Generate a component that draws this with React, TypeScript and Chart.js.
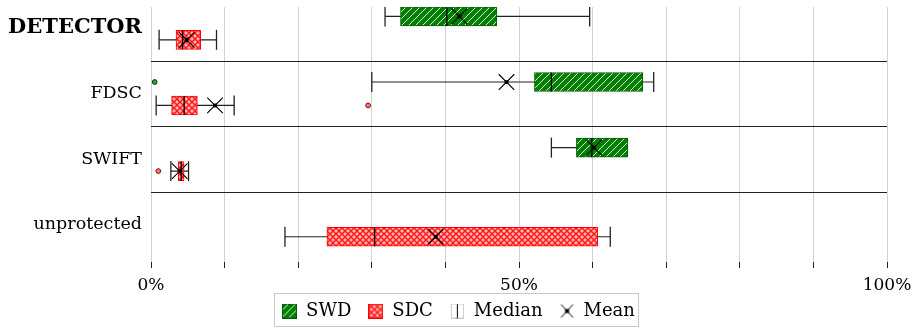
import React, { useEffect, useRef } from 'react';
import { Chart, registerables } from 'chart.js';

Chart.register(...registerables);

// ---------- data ----------
const categories = ['DETECTOR', 'FDSC', 'SWIFT', 'unprotected'];
const seriesNames = ['SWD', 'SDC', 'Median', 'Mean'];

// SWD box statistics (percent); null = no data
const swdLow = [31.8, 30.0, 54.4, null];
const swdQ1 = [33.9, 52.1, 57.8, null];
const swdMedian = [40.2, 54.4, 59.9, null];
const swdMean = [41.9, 48.3, 60.2, null];
const swdQ3 = [47.0, 66.8, 64.8, null];
const swdHigh = [59.6, 68.3, 64.8, null];
const swdOutliers = [[], [0.5], [], []];

// SDC box statistics (percent)
const sdcLow = [1.1, 0.7, 2.7, 18.2];
const sdcQ1 = [3.4, 2.8, 3.7, 23.9];
const sdcMedian = [4.3, 4.5, 4.1, 30.4];
const sdcMean = [4.85, 8.7, 3.9, 38.7];
const sdcQ3 = [6.75, 6.3, 4.5, 60.7];
const sdcHigh = [8.9, 11.3, 5.1, 62.4];
const sdcOutliers = [[], [29.5], [1.0], []];

const xLabeledTicks = [0, 50, 100];

// ---------- style ----------
const FONT = "'DejaVu Serif', serif";
const SWD_OFFSET = -0.177;
const SDC_OFFSET = 0.18;

function makeTile(kind: 'swd' | 'sdc'): HTMLCanvasElement {
  const c = document.createElement('canvas');
  if (kind === 'swd') {
    const p = 7;
    c.width = p; c.height = p;
    const g = c.getContext('2d')!;
    g.fillStyle = '#007f00';
    g.fillRect(0, 0, p, p);
    g.strokeStyle = 'rgba(255,255,255,0.85)';
    g.lineWidth = 1;
    for (let k = -1; k <= 1; k++) {
      g.beginPath();
      g.moveTo(k * p, p);
      g.lineTo(k * p + p, 0);
      g.stroke();
    }
  } else {
    const p = 6;
    c.width = p; c.height = p;
    const g = c.getContext('2d')!;
    g.fillStyle = '#ffb4b4';
    g.fillRect(0, 0, p, p);
    g.strokeStyle = '#ff1a1a';
    g.lineWidth = 1.5;
    for (let k = -1; k <= 1; k++) {
      g.beginPath();
      g.moveTo(k * p, p);
      g.lineTo(k * p + p, 0);
      g.stroke();
      g.beginPath();
      g.moveTo(k * p, 0);
      g.lineTo(k * p + p, p);
      g.stroke();
    }
  }
  return c;
}

function makePattern(kind: 'swd' | 'sdc'): CanvasPattern | string {
  const g = document.createElement('canvas').getContext('2d');
  const pat = g ? g.createPattern(makeTile(kind), 'repeat') : null;
  return pat || (kind === 'swd' ? '#007f00' : '#ff8080');
}

function makeIcon(kind: 'swd' | 'sdc' | 'median' | 'mean'): HTMLCanvasElement {
  const c = document.createElement('canvas');
  c.width = 15; c.height = 15;
  const g = c.getContext('2d')!;
  if (kind === 'swd' || kind === 'sdc') {
    const pat = g.createPattern(makeTile(kind), 'repeat');
    g.fillStyle = pat || '#080';
    g.fillRect(0.5, 0.5, 14, 14);
    g.strokeStyle = kind === 'swd' ? '#005c00' : '#ff0000';
    g.lineWidth = 1;
    g.strokeRect(0.5, 0.5, 14, 14);
  } else if (kind === 'median') {
    g.strokeStyle = '#cccccc';
    g.lineWidth = 1;
    g.strokeRect(1.5, 0.5, 12, 14);
    g.strokeStyle = '#000';
    g.beginPath();
    g.moveTo(7.5, 0.5);
    g.lineTo(7.5, 14.5);
    g.stroke();
  } else {
    g.strokeStyle = '#000';
    g.lineWidth = 1;
    g.beginPath();
    g.moveTo(1.5, 1); g.lineTo(13.5, 14);
    g.moveTo(13.5, 1); g.lineTo(1.5, 14);
    g.stroke();
    g.fillStyle = '#000';
    g.fillRect(5.5, 5.5, 4, 4);
  }
  return c;
}

type Num = number | null;

function buildSeries(
  low: Num[], q1: Num[], med: Num[], mean: Num[], q3: Num[], high: Num[],
  outliers: number[][], offset: number, kind: 'swd' | 'sdc'
) {
  const idx = categories.map((_, i) => i).filter((i) => q1[i] !== null);
  const whisker: any[] = [];
  const caps: any[] = [];
  const boxes: any[] = [];
  const medians: any[] = [];
  const means: any[] = [];
  const outl: any[] = [];
  idx.forEach((i) => {
    const y = i + offset;
    whisker.push({ x: low[i], y }, { x: high[i], y }, { x: NaN, y: NaN });
    caps.push({ x: low[i], y });
    if (high[i] !== q3[i]) caps.push({ x: high[i], y });
    boxes.push({ x: [q1[i], q3[i]], y });
    medians.push({ x: med[i], y });
    means.push({ x: mean[i], y });
  });
  categories.forEach((_, i) => {
    outliers[i].forEach((v) => outl.push({ x: v, y: i + offset }));
  });
  const fill = makePattern(kind);
  const border = kind === 'swd' ? '#005c00' : '#ff0000';
  return [
    {
      type: 'line', label: kind + '-whisker', data: whisker, borderColor: '#222', borderWidth: 1.2,
      pointRadius: 0, spanGaps: false, order: 20,
    },
    {
      type: 'scatter', label: kind + '-caps', data: caps, pointStyle: 'line', rotation: 90,
      radius: 10, borderColor: '#222', borderWidth: 1.3, order: 19,
    },
    {
      type: 'bar', label: kind, data: boxes, indexAxis: 'y', grouped: false, barThickness: 19,
      backgroundColor: fill, borderColor: border, borderWidth: 1, borderSkipped: false, order: 18,
    },
    {
      type: 'scatter', label: kind + '-median', data: medians, pointStyle: 'line', rotation: 90,
      radius: 9.5, borderColor: '#000', borderWidth: 1.3, order: 17,
    },
    {
      type: 'scatter', label: kind + '-mean', data: means, pointStyle: 'crossRot',
      radius: 11, borderColor: '#000', borderWidth: 1.1, order: 16,
    },
    {
      type: 'scatter', label: kind + '-meandot', data: means, pointStyle: 'rect',
      radius: 2.7, backgroundColor: '#000', borderColor: '#000', borderWidth: 0, order: 15,
    },
    {
      type: 'scatter', label: kind + '-outliers', data: outl, pointStyle: 'circle', radius: 2.4,
      backgroundColor: kind === 'swd' ? '#22aa22' : '#ff7070',
      borderColor: kind === 'swd' ? '#222' : '#7a1010', borderWidth: 1, order: 14,
    },
  ];
}

// group separators drawn through the y scale
const separatorValues = [0.5, 1.5, 2.5];
const groupSeparators = {
  id: 'groupSeparators',
  beforeDatasetsDraw(chart: any) {
    const { ctx, chartArea, scales } = chart;
    ctx.save();
    ctx.strokeStyle = '#222';
    ctx.lineWidth = 1;
    separatorValues.forEach((v) => {
      const y = Math.round(scales.y.getPixelForValue(v)) + 0.5;
      ctx.beginPath();
      ctx.moveTo(chartArea.left, y);
      ctx.lineTo(chartArea.right, y);
      ctx.stroke();
    });
    ctx.restore();
  },
};

// place the legend like the reference (shift right / up) and frame it
const LEGEND_SHIFT_X = 15;
const LEGEND_SHIFT_Y = -7;
const legendFrame = {
  id: 'legendFrame',
  afterLayout(chart: any) {
    const lg = chart.legend;
    if (!lg) return;
    lg.left += LEGEND_SHIFT_X;
    lg.right += LEGEND_SHIFT_X;
    lg.top += LEGEND_SHIFT_Y;
    lg.bottom += LEGEND_SHIFT_Y;
  },
  afterDraw(chart: any) {
    const lg = chart.legend;
    if (!lg || !lg.legendHitBoxes || !lg.legendHitBoxes.length) return;
    const hb = lg.legendHitBoxes;
    const left = Math.min(...hb.map((h: any) => h.left)) - 8;
    const right = Math.max(...hb.map((h: any) => h.left + h.width)) + 3;
    const top = hb[0].top - 9;
    const bottom = hb[0].top + hb[0].height + 6;
    const ctx = chart.ctx;
    ctx.save();
    ctx.strokeStyle = '#c8c8c8';
    ctx.lineWidth = 1;
    ctx.strokeRect(Math.round(left) + 0.5, Math.round(top) + 0.5, Math.round(right - left), Math.round(bottom - top));
    ctx.restore();
  },
};

export default function App() {
  const ref = useRef<HTMLCanvasElement | null>(null);
  useEffect(() => {
    if (!ref.current) return;
    const datasets: any[] = [
      ...buildSeries(swdLow, swdQ1, swdMedian, swdMean, swdQ3, swdHigh, swdOutliers, SWD_OFFSET, 'swd'),
      ...buildSeries(sdcLow, sdcQ1, sdcMedian, sdcMean, sdcQ3, sdcHigh, sdcOutliers, SDC_OFFSET, 'sdc'),
    ];
    const icons = [makeIcon('swd'), makeIcon('sdc'), makeIcon('median'), makeIcon('mean')];
    const chart = new Chart(ref.current, {
      type: 'scatter',
      data: { datasets },
      plugins: [groupSeparators, legendFrame],
      options: {
        animation: false,
        responsive: true,
        maintainAspectRatio: false,
        events: [],
        layout: { autoPadding: false, padding: { top: 7, left: 0, right: 31, bottom: 0 } },
        scales: {
          x: {
            type: 'linear',
            min: 0,
            max: 100,
            offset: false,
            ticks: {
              stepSize: 10,
              autoSkip: false,
              maxRotation: 0,
              padding: 7,
              color: '#000',
              font: { family: FONT, size: 17 },
              callback: (v: any) => (xLabeledTicks.includes(Number(v)) ? `${v}%` : ''),
            },
            grid: { offset: false, color: '#d2d2d2', lineWidth: 1, tickColor: '#222', tickLength: 6, drawTicks: true },
            border: { display: false },
            afterFit: (s: any) => {
              s.height = 30;
              s.paddingLeft = 0;
              s.paddingRight = 0;
            },
          },
          y: {
            type: 'linear',
            reverse: true,
            offset: false,
            min: -0.32,
            max: 3.565,
            afterBuildTicks: (s: any) => {
              s.ticks = categories.map((_, i) => ({ value: i }));
            },
            afterFit: (s: any) => {
              s.width = 151;
              s.paddingTop = 0;
              s.paddingBottom = 0;
            },
            ticks: {
              padding: 9,
              color: '#000',
              font: (ctx: any) =>
                ctx.tick && ctx.tick.value === 0
                  ? { family: FONT, size: 21, weight: 'bold' }
                  : { family: FONT, size: 17.5 },
              callback: (v: any) => categories[Number(v)] ?? '',
            },
            grid: { display: false, drawTicks: false, offset: false },
            border: { display: false },
          },
        },
        plugins: {
          tooltip: { enabled: false },
          legend: {
            position: 'bottom',
            maxHeight: 36,
            labels: {
              usePointStyle: true,
              pointStyleWidth: 15,
              padding: 17,
              color: '#000',
              font: { family: FONT, size: 18 },
              generateLabels: () =>
                seriesNames.map((text, i) => ({
                  text,
                  pointStyle: icons[i],
                  fillStyle: 'transparent',
                  strokeStyle: 'transparent',
                  lineWidth: 0,
                  hidden: false,
                  fontColor: '#000',
                })),
            },
          },
        },
      } as any,
    });
    return () => chart.destroy();
  }, []);
  return (
    <div style={{ position: 'fixed', left: 0, top: 0, width: 918, height: 328, background: '#fff' }}>
      <canvas ref={ref} />
    </div>
  );
}
